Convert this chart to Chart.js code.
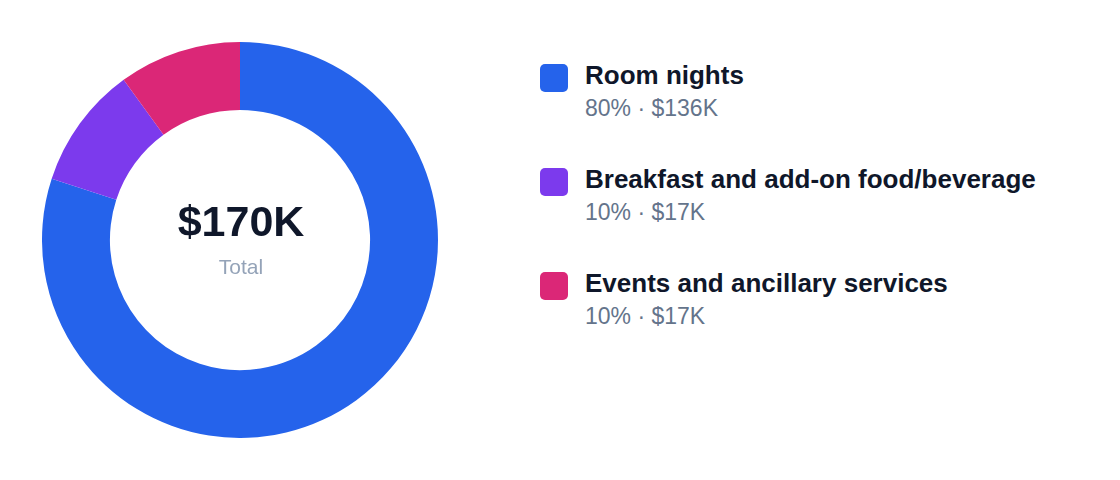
<!DOCTYPE html>
<html>
<head>
<meta charset="utf-8">
<script src="https://cdn.jsdelivr.net/npm/chart.js@4"></script>
<style>
  html, body { margin: 0; padding: 0; background: #fff; }
  body { width: 1120px; height: 480px; position: relative; overflow: hidden;
         font-family: "Liberation Sans", Arial, Helvetica, sans-serif; }
  #chart-wrap { position: absolute; left: 42px; top: 42px; width: 396px; height: 396px; }
  .legend-item { position: absolute; left: 540px; }
  .legend-item .swatch { position: absolute; left: 0; top: 2px; width: 28px; height: 28px; border-radius: 5px; }
  .legend-item .title { position: absolute; left: 45px; top: 0; white-space: nowrap;
         font-size: 26px; line-height: 26px; font-weight: 700; color: #0f172a; }
  .legend-item .sub { position: absolute; left: 45px; top: 35px; white-space: nowrap;
         font-size: 23px; line-height: 23px; color: #64748b; }
</style>
</head>
<body>
<div id="chart-wrap"><canvas id="revenue-chart"></canvas></div>
<div id="legend"></div>
<script>
// ===== Revenue mix doughnut =====

const categories = ['Room nights', 'Breakfast and add-on food/beverage', 'Events and ancillary services'];
const valuesK = [136, 17, 17];        // $K
const sliceColors = ['#2563eb', '#7c3aed', '#db2777'];
const totalLabel = 'Total';

const totalK = valuesK.reduce((a, b) => a + b, 0);

function buildLegend() {
    const legend = document.getElementById('legend');
    let html = '';
    categories.forEach((cat, i) => {
        const pct = Math.round(valuesK[i] / totalK * 100);
        html += `
            <div class="legend-item" style="top: ${62 + i * 104}px;">
                <div class="swatch" style="background: ${sliceColors[i]};"></div>
                <div class="title">${cat}</div>
                <div class="sub">${pct}% · $${valuesK[i]}K</div>
            </div>
        `;
    });
    legend.innerHTML = html;
}

// Draws the total in the hole
const centerText = {
    id: 'centerText',
    afterDraw(chart) {
        const arc = chart.getDatasetMeta(0).data[0];
        if (!arc) return;
        const { x, y } = arc;
        const ctx = chart.ctx;
        ctx.save();
        ctx.textAlign = 'center';
        ctx.textBaseline = 'alphabetic';
        ctx.fillStyle = '#0f172a';
        ctx.font = 'bold 43px "Liberation Sans", Arial, sans-serif';
        ctx.fillText('$' + totalK + 'K', x + 1, y - 4);
        ctx.fillStyle = '#94a3b8';
        ctx.font = '21px "Liberation Sans", Arial, sans-serif';
        ctx.fillText(totalLabel, x + 1, y + 34);
        ctx.restore();
    }
};

function initRevenueChart() {
    const ctx = document.getElementById('revenue-chart').getContext('2d');
    new Chart(ctx, {
        type: 'doughnut',
        data: {
            labels: categories,
            datasets: [{
                data: valuesK,
                backgroundColor: sliceColors,
                borderWidth: 0
            }]
        },
        options: {
            responsive: true,
            maintainAspectRatio: false,
            animation: false,
            cutout: '65.7%',
            layout: { padding: 0 },
            plugins: {
                legend: { display: false },
                tooltip: { enabled: false }
            }
        },
        plugins: [centerText]
    });
}

buildLegend();
initRevenueChart();
</script>
</body>
</html>
